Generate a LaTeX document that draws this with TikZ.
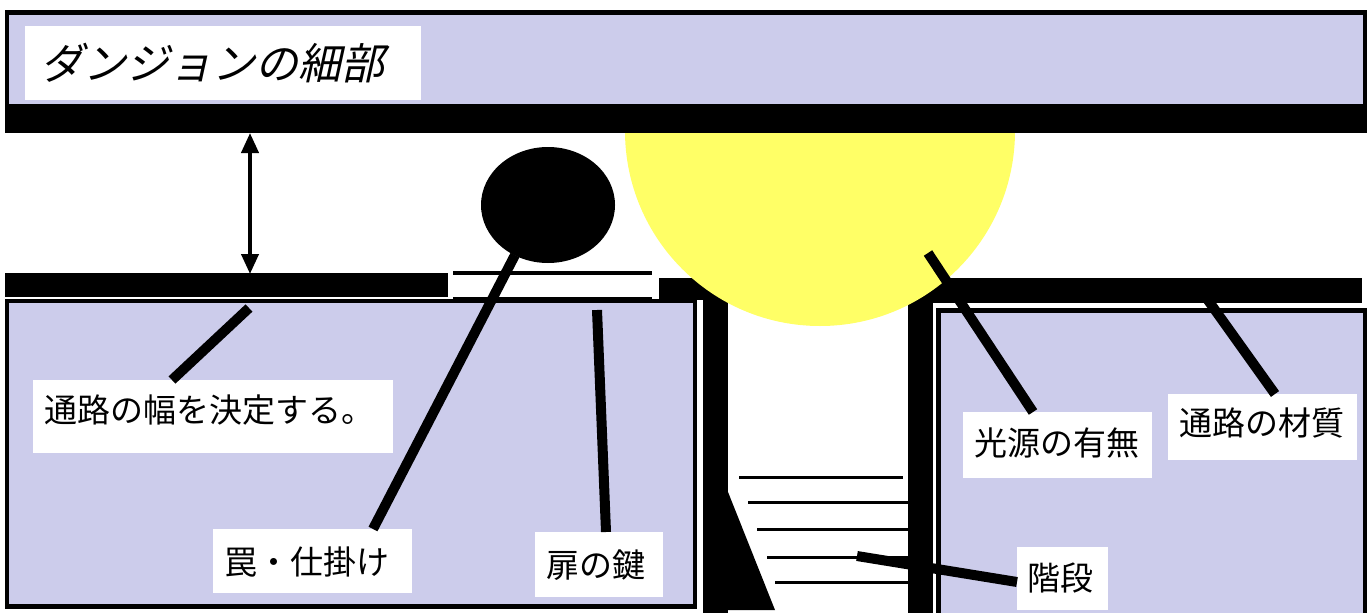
\documentclass[tikz,border=0pt]{standalone}
\usepackage{fontspec}
\newfontfamily\jp{Noto Sans CJK JP}
\newfontfamily\jpit[FakeSlant=0.22]{Noto Sans CJK JP}
\usetikzlibrary{arrows.meta}
\definecolor{lav}{RGB}{204,204,235}
\definecolor{lite}{RGB}{255,255,102}
\begin{document}
\begin{tikzpicture}[x=1pt,y=-1pt,
  lbl/.style={fill=white, anchor=north west, inner ysep=0pt, align=left,
    font=\jp\fontsize{33}{33}\selectfont},
  leader/.style={line width=10pt},
  stairline/.style={line width=3pt},
  doorline/.style={line width=4pt},
  dimarrow/.style={line width=4pt, {Triangle[width=17pt,length=20pt]}-{Triangle[width=17pt,length=20pt]}}]
\useasboundingbox (0,0) rectangle (1372,613);
% top band
\fill[black] (5,10) rectangle (1367,133);
\fill[lav] (9,15) rectangle (1363,104);
% left corridor wall and room
\fill[black] (5,273) rectangle (448,297);
\fill[black] (5,299) rectangle (697,609);
\fill[lav] (9,303) rectangle (693,604);
% door
\draw[doorline] (453,273) -- (652,273);
\draw[doorline] (453,299) -- (652,299);
% stair walls
\fill[black] (659,278) rectangle (728,300);
\fill[black] (703,278) rectangle (728,613);
\fill[black] (728,492) -- (775,610) -- (728,610) -- cycle;
\fill[black] (908,278) rectangle (1362,303);
\fill[black] (908,278) rectangle (933,613);
% right room
\fill[black] (936,308) rectangle (1367,613);
\fill[lav] (941,313) rectangle (1363,613);
% light
\begin{scope}
  \clip (600,133) rectangle (1050,340);
  \fill[lite] (820,131) circle[radius=195];
\end{scope}
% trap
\fill[black] (548,205) ellipse[x radius=67, y radius=58];
% stairs
\draw[stairline] (739,477) -- (903,477);
\draw[stairline] (748,502) -- (908,502);
\draw[stairline] (757,529) -- (908,529);
\draw[stairline] (767,557) -- (908,557);
\draw[stairline] (775,582) -- (908,582);
% width arrow
\coordinate (a1) at (250,133);
\coordinate (a2) at (250,274);
\draw[dimarrow] (a1) -- (a2);
% labels
\node[lbl, font=\jpit\fontsize{43}{43}\selectfont, text height=53pt, text depth=21pt, inner xsep=15pt, text width=366pt] (title) at (25,26) {ダンジョンの細部};
\node[lbl, text height=42.5pt, text depth=30.5pt, inner xsep=11pt, text width=338pt] (wid) at (33,380) {通路の幅を決定する。};
\node[lbl, text height=45.5pt, text depth=18.5pt, inner xsep=11pt, text width=177pt] (trap) at (213,529) {罠・仕掛け};
\node[lbl, text height=45.5pt, text depth=19.5pt, inner xsep=11pt, text width=106pt] (key) at (535,532) {扉の鍵};
\node[lbl, text height=43.5pt, text depth=22.5pt, inner xsep=11pt, text width=167pt] (light) at (963,412) {光源の有無};
\node[lbl, text height=41.5pt, text depth=24.5pt, inner xsep=11pt, text width=167pt] (mat) at (1168,394) {通路の材質};
\node[lbl, text height=43.5pt, text depth=19.5pt, inner xsep=10pt, text width=71pt] (stairs) at (1017,547) {階段};
% leaders
\coordinate (w1) at (249,308); \coordinate (w2) at (172,380);
\coordinate (t1) at (515,255); \coordinate (t2) at (373,529);
\coordinate (k1) at (597,310); \coordinate (k2) at (606,532);
\coordinate (l1) at (928,253); \coordinate (l2) at (1033,412);
\coordinate (m1) at (1205,296); \coordinate (m2) at (1275,394);
\coordinate (s1) at (857,556); \coordinate (s2) at (1017,582);
\draw[leader] (w1) -- (w2);
\draw[leader] (t1) -- (t2);
\draw[leader] (k1) -- (k2);
\draw[leader] (l1) -- (l2);
\draw[leader] (m1) -- (m2);
\draw[leader] (s1) -- (s2);
\end{tikzpicture}
\end{document}
